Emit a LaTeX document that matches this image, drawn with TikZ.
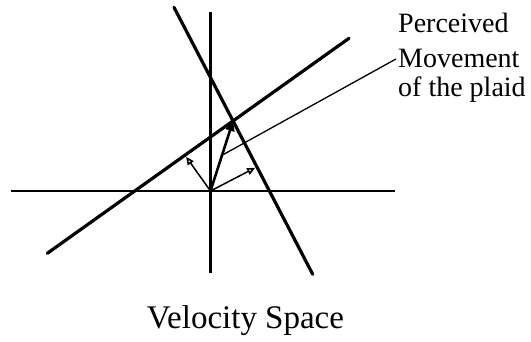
\documentclass[tikz,border=0pt]{standalone}
\usepackage{fontspec}
\setmainfont{Liberation Serif}
\usetikzlibrary{calc,arrows.meta}
\begin{document}
\begin{tikzpicture}[x=1pt,y=-1pt,
  axis/.style={line width=2.3pt},
  constraint/.style={line width=3.2pt, line cap=round},
  comp/.style={line width=1.5pt, -{Triangle[open,length=8pt,width=7pt,line width=1.6pt]}, shorten >=2pt},
  velo/.style={line width=2.6pt, -{Triangle[length=10pt,width=9pt]}},
  leader/.style={line width=1.3pt},
  lbl/.style={font=\fontsize{28}{32}\selectfont, inner sep=2pt, anchor=base west},
  title/.style={font=\fontsize{33}{37}\selectfont, inner sep=0pt, anchor=base}]
\useasboundingbox (0,0) rectangle (531,342);
% axes
\coordinate (xl) at (11,191);
\coordinate (xr) at (395,191);
\coordinate (yt) at (210.5,11.7);
\coordinate (yb) at (210.5,273.3);
\coordinate (O) at (210.5,191);
\draw[axis] (xl) -- (xr);
\draw[axis] (yt) -- (yb);
% constraint lines
\coordinate (a1) at (47.3,253.3);
\coordinate (a2) at (349,38.3);
\coordinate (b1) at (174,7.3);
\coordinate (b2) at (312.7,274.3);
\draw[constraint] (a1) -- (a2);
\draw[constraint] (b1) -- (b2);
% intersection and feet
\coordinate (X) at (intersection of a1--a2 and b1--b2);
\coordinate (fa) at ($(a1)!(O)!(a2)$);
\coordinate (fb) at ($(b1)!(O)!(b2)$);
\draw[comp] (O) -- (fa);
\draw[comp] (O) -- (fb);
\draw[velo] (O) -- (X);
% labels
\node[lbl] (p1) at (396,33) {Perceived};
\node[lbl] (p2) at (396,68) {Movement};
\node[lbl] (p3) at (396,97) {of the plaid};
\coordinate (m) at ($(O)!0.51!(X)$);
\draw[leader] (m) -- (p2.west);
\node[title] (t) at (245.5,328) {Velocity Space};
\end{tikzpicture}
\end{document}
